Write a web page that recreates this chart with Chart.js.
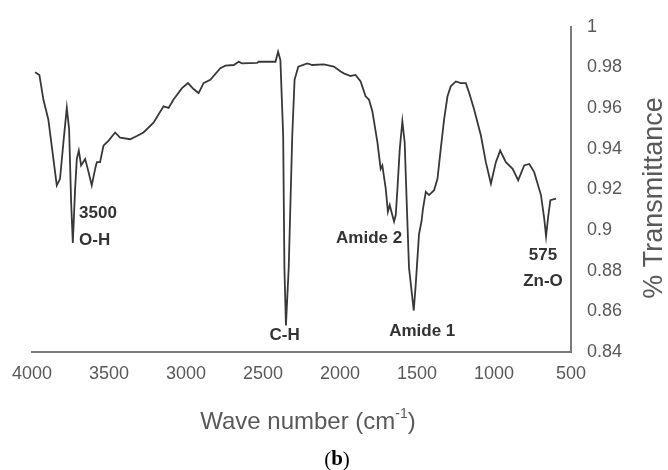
<!DOCTYPE html>
<html>
<head>
<meta charset="utf-8">
<script src="https://cdn.jsdelivr.net/npm/chart.js@4.4.0/dist/chart.umd.min.js"></script>
<style>
  body { margin: 0; background: #fff; }
  canvas { display: block; }
</style>
</head>
<body>
<canvas id="ftir" width="668" height="470"></canvas>
<script>
// FTIR spectrum
var waveNumber = [3980, 3952, 3926, 3894, 3839, 3818, 3796, 3774, 3759, 3746, 3735, 3720, 3709, 3696, 3681, 3655, 3638, 3612, 3590, 3579, 3558, 3536, 3504, 3460, 3428, 3362, 3319, 3276, 3211, 3146, 3113, 3081, 3026, 2987, 2951, 2918, 2886, 2842, 2777, 2744, 2690, 2658, 2636, 2538, 2528, 2419, 2402, 2387, 2369, 2361, 2351, 2333, 2310, 2295, 2271, 2213, 2180, 2105, 2040, 1996, 1975, 1931, 1899, 1866, 1834, 1812, 1790, 1757, 1736, 1725, 1703, 1689, 1677, 1666, 1649, 1638, 1627, 1612, 1595, 1580, 1567, 1552, 1521, 1508, 1487, 1471, 1461, 1443, 1422, 1389, 1367, 1346, 1324, 1302, 1281, 1248, 1216, 1183, 1161, 1129, 1085, 1053, 1020, 988, 960, 923, 879, 843, 804, 771, 739, 695, 674, 662, 647, 634, 597];
var transmittance = [0.9776, 0.9763, 0.9642, 0.9544, 0.9220, 0.9252, 0.9431, 0.9601, 0.9496, 0.9139, 0.8936, 0.9204, 0.9350, 0.9391, 0.9318, 0.9350, 0.9301, 0.9220, 0.9301, 0.9334, 0.9334, 0.9415, 0.9439, 0.9480, 0.9455, 0.9447, 0.9463, 0.9480, 0.9528, 0.9609, 0.9601, 0.9642, 0.9698, 0.9723, 0.9694, 0.9674, 0.9723, 0.9739, 0.9796, 0.9809, 0.9812, 0.9828, 0.9820, 0.9823, 0.9828, 0.9828, 0.9877, 0.9836, 0.9465, 0.8815, 0.8531, 0.8815, 0.9465, 0.9739, 0.9804, 0.9820, 0.9812, 0.9815, 0.9804, 0.9780, 0.9771, 0.9758, 0.9763, 0.9731, 0.9658, 0.9642, 0.9585, 0.9431, 0.9301, 0.9318, 0.9204, 0.9090, 0.9123, 0.9090, 0.9042, 0.9074, 0.9204, 0.9398, 0.9536, 0.9431, 0.9139, 0.8815, 0.8604, 0.8735, 0.8979, 0.9042, 0.9106, 0.9188, 0.9172, 0.9196, 0.9252, 0.9398, 0.9544, 0.9658, 0.9707, 0.9731, 0.9723, 0.9723, 0.9674, 0.9593, 0.9465, 0.9334, 0.9228, 0.9334, 0.9391, 0.9334, 0.9301, 0.9245, 0.9318, 0.9325, 0.9285, 0.9172, 0.9058, 0.8969, 0.9074, 0.9147, 0.9155];

var xTicks = [4000, 3500, 3000, 2500, 2000, 1500, 1000, 500];
var yTicks = [0.84, 0.86, 0.88, 0.9, 0.92, 0.94, 0.96, 0.98, 1];

// peak labels, anchored in data units
var peakLabels = [
  { text: '3500', wave: 3694, t: 0.908, align: 'left' },
  { text: 'O-H', wave: 3694, t: 0.895, align: 'left' },
  { text: 'C-H', wave: 2360, t: 0.848, align: 'center' },
  { text: 'Amide 2', wave: 1811, t: 0.896, align: 'center' },
  { text: 'Amide 1', wave: 1466, t: 0.850, align: 'center' },
  { text: '575', wave: 682, t: 0.8876, align: 'center' },
  { text: 'Zn-O', wave: 682, t: 0.875, align: 'center' }
];

var points = waveNumber.map(function (w, i) { return { x: w, y: transmittance[i] }; });

var sans = '"Liberation Sans", Arial, sans-serif';

var figureText = {
  id: 'figureText',
  afterDraw: function (chart) {
    var ctx = chart.ctx;
    var xs = chart.scales.x, ys = chart.scales.y;
    ctx.save();
    ctx.textBaseline = 'middle';

    // peak labels
    ctx.fillStyle = '#333';
    ctx.font = 'bold 17px ' + sans;
    peakLabels.forEach(function (l) {
      ctx.textAlign = l.align;
      ctx.fillText(l.text, xs.getPixelForValue(l.wave), ys.getPixelForValue(l.t));
    });

    // x axis title with superscript
    ctx.fillStyle = '#595959';
    var big = '24px ' + sans, small = '14px ' + sans;
    ctx.font = big;
    var p1 = 'Wave number (cm', p3 = ')';
    var w1 = ctx.measureText(p1).width, w3 = ctx.measureText(p3).width;
    ctx.font = small;
    var p2 = '-1';
    var w2 = ctx.measureText(p2).width;
    var cx = 308, cy = 422;
    var sx = cx - (w1 + w2 + w3) / 2;
    ctx.textAlign = 'left';
    ctx.font = big;
    ctx.fillText(p1, sx, cy);
    ctx.font = small;
    ctx.fillText(p2, sx + w1, cy - 8);
    ctx.font = big;
    ctx.fillText(p3, sx + w1 + w2, cy);

    // y axis title, reading upwards
    ctx.save();
    ctx.translate(655, 198);
    ctx.rotate(-Math.PI / 2);
    ctx.textAlign = 'center';
    ctx.font = '27px ' + sans;
    ctx.fillText('% Transmittance', 0, 0);
    ctx.restore();

    // panel letter
    ctx.fillStyle = '#000';
    var serif = '"Liberation Serif", "Times New Roman", serif';
    ctx.font = '21px ' + serif;
    var a = ctx.measureText('(').width;
    ctx.font = 'bold 21px ' + serif;
    var b = ctx.measureText('b').width;
    var lx = 337 - (2 * a + b) / 2;
    ctx.textAlign = 'left';
    ctx.font = '21px ' + serif;
    ctx.fillText('(', lx, 460);
    ctx.font = 'bold 21px ' + serif;
    ctx.fillText('b', lx + a, 460);
    ctx.font = '21px ' + serif;
    ctx.fillText(')', lx + a + b, 460);
    ctx.restore();
  }
};

var ctx = document.getElementById('ftir').getContext('2d');
var spectrum = new Chart(ctx, {
  type: 'scatter',
  data: {
    datasets: [{
      label: 'Transmittance',
      data: points,
      showLine: true,
      borderColor: '#383838',
      borderWidth: 1.8,
      pointRadius: 0,
      tension: 0
    }]
  },
  options: {
    responsive: false,
    animation: false,
    layout: { padding: { left: 32, top: 23, right: 0, bottom: 0 } },
    plugins: {
      legend: { display: false },
      tooltip: { enabled: false }
    },
    scales: {
      x: {
        type: 'linear',
        reverse: true,
        min: 500,
        max: 4000,
        grid: { display: false, drawTicks: false },
        border: { display: true, color: '#7a7a7a', width: 2 },
        afterBuildTicks: function (s) { s.ticks = xTicks.map(function (v) { return { value: v }; }); },
        afterFit: function (s) { s.height = 118; },
        ticks: {
          padding: 11,
          maxRotation: 0,
          color: '#595959',
          font: { family: sans, size: 18 },
          callback: function (v) { return String(v); }
        }
      },
      y: {
        type: 'linear',
        position: 'right',
        min: 0.84,
        max: 1,
        grid: { display: false, drawTicks: false },
        border: { display: true, color: '#7a7a7a', width: 2 },
        afterBuildTicks: function (s) { s.ticks = yTicks.map(function (v) { return { value: v }; }); },
        afterFit: function (s) { s.width = 97; },
        ticks: {
          padding: 16,
          color: '#595959',
          font: { family: sans, size: 18 },
          callback: function (v) { return String(+v.toFixed(2)); }
        }
      }
    }
  },
  plugins: [figureText]
});
</script>
</body>
</html>
